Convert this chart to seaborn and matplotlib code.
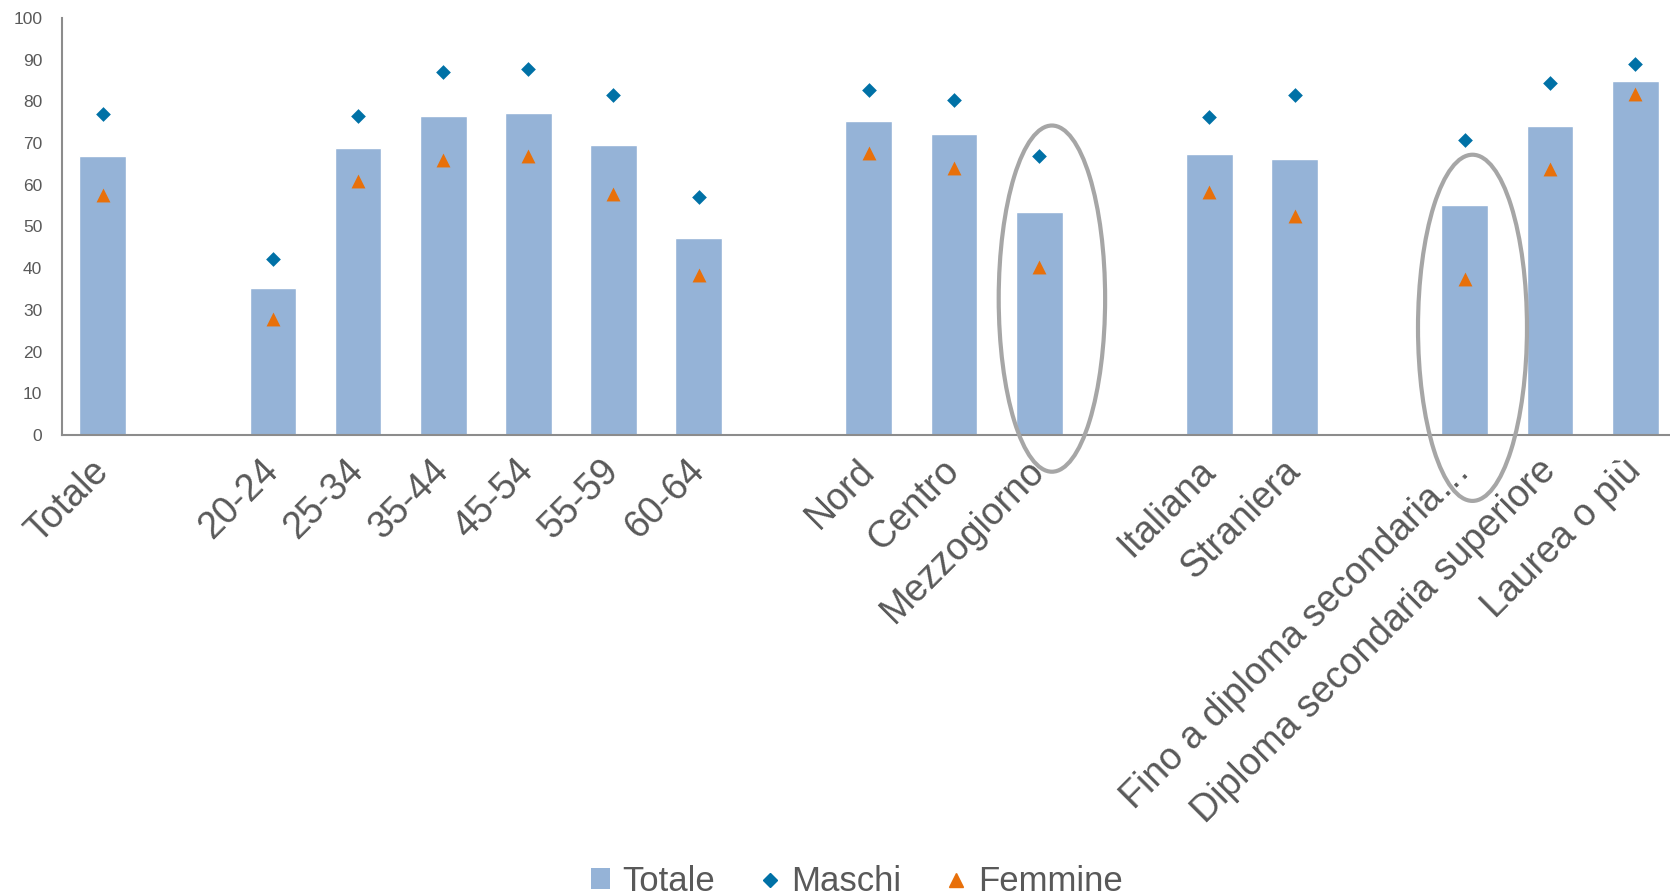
import numpy as np
import pandas as pd
import matplotlib
matplotlib.use("Agg")
import matplotlib.pyplot as plt
import seaborn as sns
from matplotlib.patches import Ellipse, Patch
from matplotlib.lines import Line2D

categories = ["Totale", "20-24", "25-34", "35-44", "45-54", "55-59", "60-64",
              "Nord", "Centro", "Mezzogiorno", "Italiana", "Straniera",
              "Fino a diploma secondaria…", "Diploma secondaria superiore", "Laurea o più"]
totale = [67.0, 35.3, 68.8, 76.5, 77.2, 69.6, 47.3, 75.2, 72.1, 53.5, 67.3, 66.2, 55.2, 74.2, 84.9]
maschi = [77.0, 42.2, 76.5, 87.0, 87.7, 81.6, 57.0, 82.6, 80.3, 66.8, 76.2, 81.6, 70.8, 84.4, 89.0]
femmine = [57.5, 27.9, 60.9, 66.0, 66.8, 57.8, 38.4, 67.5, 63.9, 40.2, 58.3, 52.4, 37.3, 63.7, 81.8]

# slot order with empty separators between groups
order = ["Totale", " ", "20-24", "25-34", "35-44", "45-54", "55-59", "60-64", "  ",
         "Nord", "Centro", "Mezzogiorno", "   ", "Italiana", "Straniera", "    ",
         "Fino a diploma secondaria…", "Diploma secondaria superiore", "Laurea o più"]

df = pd.DataFrame({"cat": categories, "Totale": totale, "Maschi": maschi, "Femmine": femmine})

sns.set_style("white")
plt.rcParams["font.family"] = ["Liberation Sans", "DejaVu Sans"]

bar_c = "#95B3D7"
m_c = "#0071A6"
f_c = "#E8700A"
txt_c = "#595959"

fig = plt.figure(figsize=(16.7, 8.96), dpi=100)
ax = fig.add_axes([0.037, 0.5145, 0.963, 0.4655])

sns.barplot(data=df, x="cat", y="Totale", order=order, color=bar_c, width=0.55,
            saturation=1, ax=ax, zorder=2)
sns.stripplot(data=df, x="cat", y="Maschi", order=order, color=m_c, marker="D",
              size=7.5, jitter=False, ax=ax, zorder=3, linewidth=0)
sns.stripplot(data=df, x="cat", y="Femmine", order=order, color=f_c, marker="^",
              size=10, jitter=False, ax=ax, zorder=3, linewidth=0)

ax.set_xlim(-0.48, 18.41)
ax.set_ylim(0, 100)
ax.set_yticks(range(0, 101, 10))
ax.set_xlabel("")
ax.set_ylabel("")
for s in ["top", "right"]:
    ax.spines[s].set_visible(False)
for s in ["left", "bottom"]:
    ax.spines[s].set_color("#8C8C8C")
    ax.spines[s].set_linewidth(1.5)
ax.tick_params(axis="y", labelsize=12.5, labelcolor=txt_c, length=0, pad=14)
ax.tick_params(axis="x", length=0, pad=22)
ax.set_xticks(range(len(order)))
ax.set_xticklabels(order, rotation=45, ha="right", va="center",
                   rotation_mode="anchor", fontsize=27, color=txt_c)

# highlight ellipses
for xc, yc, w, h in [(11.15, 32.7, 1.25, 83.0), (16.09, 25.7, 1.28, 83.0)]:
    e = Ellipse((xc, yc), w, h, fill=False, edgecolor="#A6A6A6", linewidth=3,
                clip_on=False, zorder=4)
    ax.add_patch(e)

handles = [Patch(facecolor=bar_c, edgecolor="none"),
           Line2D([], [], marker="D", color=m_c, linestyle="none", markersize=7.5),
           Line2D([], [], marker="^", color=f_c, linestyle="none", markersize=10)]
fig.legend(handles, ["Totale", "Maschi", "Femmine"], loc="center",
           bbox_to_anchor=(0.513, 0.016), ncol=3, frameon=False, fontsize=25,
           labelcolor=txt_c, handlelength=0.55, handleheight=0.55,
           handletextpad=0.35, columnspacing=1.3)

fig.savefig("out.png", dpi=100)
